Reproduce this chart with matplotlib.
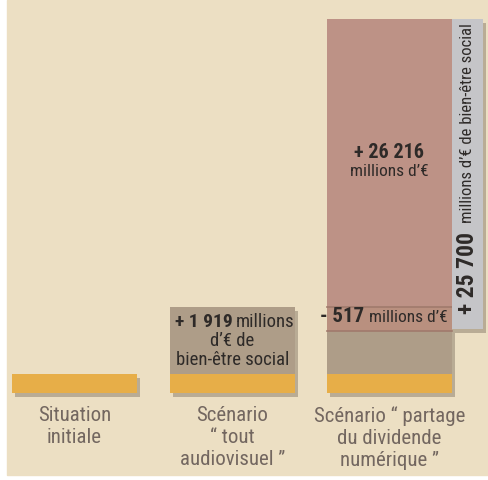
import matplotlib
matplotlib.use("Agg")
import matplotlib.pyplot as plt
from matplotlib.patches import Rectangle

plt.rcParams["font.family"] = ["Roboto Condensed", "Archivo Narrow",
                               "Liberation Sans", "DejaVu Sans"]

# categories and reported welfare changes (millions of euros)
categories = ["Situation\ninitiale",
              "Scénario\n\u201c tout\naudiovisuel \u201d",
              "Scénario \u201c partage\ndu dividende\nnumérique \u201d"]
audiovisual_gain = 1919
dividend_gain = 26216
audiovisual_loss = 517
total_gain = 25700

# illustrative (not to scale) segment heights as drawn in the source
base_h = [19, 19, 19]
audio_h = [0, 67, 67]
dividend_h = [0, 0, 312]
overlap_h = [0, 0, 24]
side_h = 310

bg = "#ECDFC3"
orange = "#E7AE48"
tan = "#AE9D88"
pink = "#BD9286"
band = "#B9907F"
side = "#C5C5C8"
txt = "#2E2A28"
label_col = "#736760"

fig = plt.figure(figsize=(4.89, 4.8), dpi=100)
ax = fig.add_axes([0, 0, 1, 1])
ax.set_xlim(0, 489)
ax.set_ylim(-87, 393)
ax.axis("off")

ax.add_patch(Rectangle((7, -82), 482, 475, color=bg, zorder=0))

x_left = [12, 170, 327]
w = 125
centers = [x + w / 2 for x in x_left]


def shadow(x, y, wd, h):
    ax.add_patch(Rectangle((x + 3, y - 4), wd, h, color="#6E6050", alpha=0.4,
                           lw=0, zorder=1))


for i in range(3):
    x = x_left[i]
    shadow(x, 0, w, base_h[i])
    ax.add_patch(Rectangle((x, 0), w, base_h[i], color=orange, lw=0, zorder=3))
    if audio_h[i]:
        shadow(x, base_h[i], w, audio_h[i])
        ax.add_patch(Rectangle((x, base_h[i]), w, audio_h[i], color=tan,
                               lw=0, zorder=2))
    if dividend_h[i]:
        y0 = base_h[i] + audio_h[i] - overlap_h[i] + 4
        ax.add_patch(Rectangle((x, y0 - 4), w, dividend_h[i], color=pink,
                               lw=0, zorder=2.5))
        ax.add_patch(Rectangle((x, y0 - 4), w, overlap_h[i], color=band,
                               lw=0, zorder=2.6))
        ax.plot([x, x + w], [y0 - 4, y0 - 4], color="#A07A6C", lw=1.2, zorder=2.7)
        ax.plot([x, x + w], [y0 - 4 + overlap_h[i]] * 2, color="#A07A6C",
                lw=1.2, zorder=2.7)
        # side bar: overall welfare gain
        sx = x + w
        shadow(sx, y0 - 2, 31, side_h)
        ax.add_patch(Rectangle((sx, y0 - 2), 31, side_h, color=side, lw=0,
                               zorder=2.8))

    ax.text(centers[i], -13, categories[i], ha="center", va="top",
            fontsize=15, color=label_col, linespacing=1.2)

# labels inside bars
c2 = centers[1]
ax.text(c2, 71, "+ {:,}".format(audiovisual_gain).replace(",", " "),
        ha="right", va="center", fontsize=14, fontweight="bold", color=txt)
ax.text(c2 + 3, 71, "millions", ha="left", va="center", fontsize=13.5, color=txt)
ax.text(c2, 52, "d\u2019\u20ac de", ha="center", va="center", fontsize=13.5,
        color=txt)
ax.text(c2, 33, "bien-être social", ha="center", va="center", fontsize=13.5,
        color=txt)

c3 = centers[2]
ax.text(c3, 241, "+ {:,}".format(dividend_gain).replace(",", " "),
        ha="center", va="center", fontsize=14.5, fontweight="bold", color=txt)
ax.text(c3, 221, "millions d\u2019\u20ac", ha="center", va="center",
        fontsize=12.5, color=txt)

ax.text(x_left[2] + 37, 77, "- {}".format(audiovisual_loss), ha="right",
        va="center", fontsize=15, fontweight="bold", color=txt)
ax.text(x_left[2] + 42, 76, "millions d\u2019\u20ac", ha="left", va="center",
        fontsize=12.5, color=txt)

sx = x_left[2] + w + 15.5
ax.text(sx, 79, "+ {:,}".format(total_gain).replace(",", " "), rotation=90,
        ha="center", va="bottom", fontsize=17, fontweight="bold", color=txt)
ax.text(sx, 170, "millions d\u2019\u20ac de bien-être social", rotation=90,
        ha="center", va="bottom", fontsize=12, color=txt)

fig.savefig("out.png", dpi=100, facecolor="white")
